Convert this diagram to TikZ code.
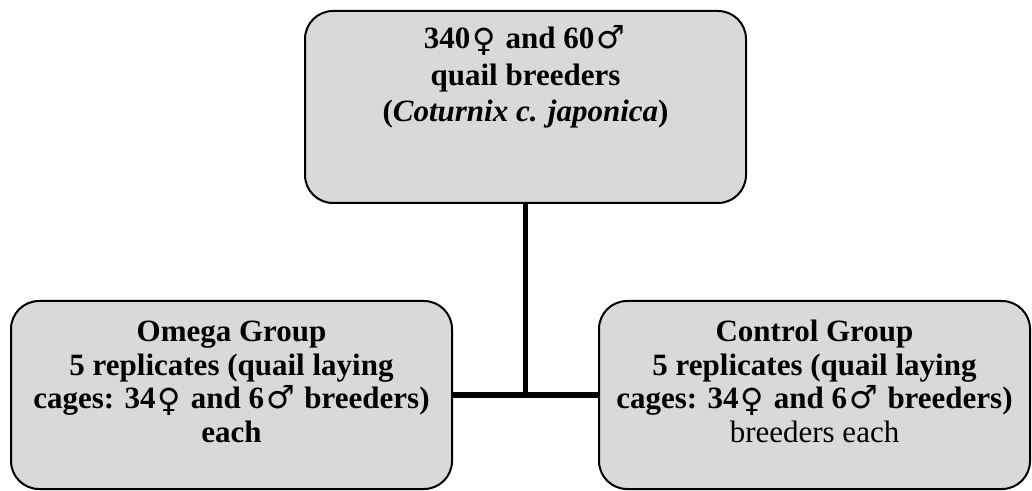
\documentclass[tikz,border=0pt]{standalone}
\usepackage{fontspec}
\setmainfont{Liberation Serif}
\newfontfamily\sexfont{DejaVu Sans}
\newcommand{\fem}{{\kern1pt\sexfont\mdseries\upshape\fontsize{16}{0}\selectfont\raisebox{-1.5pt}{♀}\kern1pt}}
\newcommand{\mal}{{\kern1pt\sexfont\mdseries\upshape\fontsize{16}{0}\selectfont ♂\kern1pt}}
\definecolor{boxgray}{HTML}{D9D9D9}
\tikzset{
  box/.style = {draw, fill = boxgray, line width = 1pt, rounded corners = 14pt, inner sep = 0pt, outer sep = 0pt},
  boxtext/.style = {anchor = base, align = center, font = \fontsize{15.5}{16.75}\selectfont\bfseries, inner sep = 0pt},
  link/.style = {line width = 2.75pt}
}
\begin{document}
\begin{tikzpicture}[x = 0.5pt, y = -0.5pt]
      \useasboundingbox (0, 0) rectangle (1032, 491);
      \node[box, minimum width = 220.5pt, minimum height = 96pt] (top) at (525.5, 107) {};
      \node[box, minimum width = 220.5pt, minimum height = 94pt] (left) at (231.5, 395) {};
      \node[box, minimum width = 215.5pt, minimum height = 94pt] (right) at (814.5, 395) {};
      \draw[link] (top.south) -- (top.south |- left.east);
      \draw[link] (left.east) -- (right.west);
      \node[boxtext, font = \fontsize{15.5}{18.25}\selectfont\bfseries] (toptext) at (525.5, 122) {340\fem{} and 60\mal\\ quail breeders\\(\textit{Coturnix c. japonica})};
      \node[boxtext] (lefttext) at (231.5, 442) {Omega Group\\5 replicates (quail laying\\cages: 34\fem{} and 6\mal{} breeders)\\each};
      \node[boxtext] (righttext) at (814.5, 442) {Control Group\\5 replicates (quail laying\\cages: 34\fem{} and 6\mal{} breeders)\\\mdseries breeders each};
    \end{tikzpicture}
\end{document}
